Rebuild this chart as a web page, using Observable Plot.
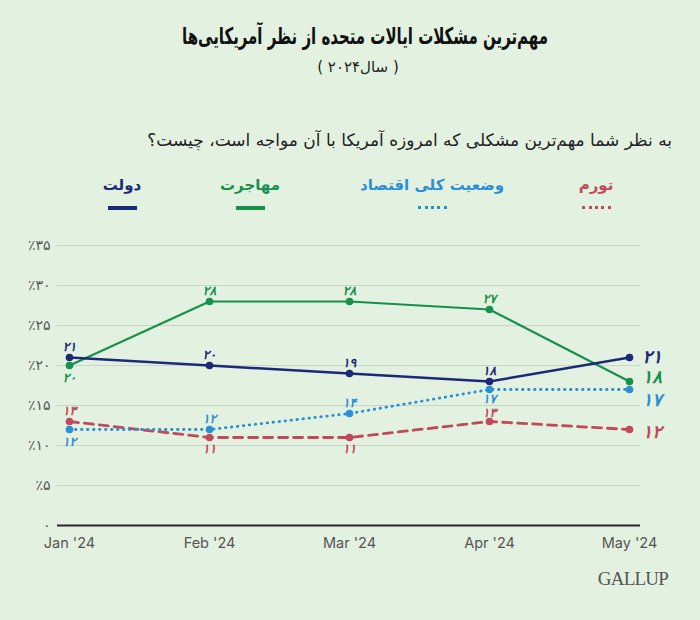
<!DOCTYPE html>
<html>
<head>
<meta charset="utf-8">
<script src="https://cdn.jsdelivr.net/npm/d3@7"></script>
<script src="https://cdn.jsdelivr.net/npm/@observablehq/plot@0.6"></script>
<style>
  html, body { margin: 0; padding: 0; }
  body { width: 700px; height: 620px; background: #e3f1e0; position: relative; overflow: hidden; font-family: "DejaVu Sans", "Noto Sans", sans-serif; }
  .abs { position: absolute; white-space: nowrap; }
  #title { top: 23px; left: 365px; font-weight: bold; font-size: 23px; color: #111; direction: rtl; transform-origin: center; }
  #subtitle { top: 58px; left: 0; width: 716px; text-align: center; font-size: 15px; color: #222; direction: rtl; }
  #question { top: 130px; right: 28px; font-size: 17px; color: #222; direction: rtl; }
  .leg { font-weight: bold; font-size: 15px; transform: translateX(-50%); direction: rtl; top: 176px; }
  .legline { top: 206px; height: 0; width: 29px; }
  #chart { position: absolute; left: 0; top: 225px; }
  #gallup { top: 568px; right: 32px; font-family: "Liberation Serif", "DejaVu Serif", serif; font-size: 19px; color: #555; letter-spacing: -0.8px; }
</style>
</head>
<body>
<div id="title" class="abs"></div>
<div id="subtitle" class="abs"></div>
<div id="question" class="abs"></div>
<div id="legend"></div>
<div id="chart"></div>
<div id="gallup" class="abs">GALLUP</div>
<script>
// ---- data ----
const months = ["Jan '24", "Feb '24", "Mar '24", "Apr '24", "May '24"];
const government = [21, 20, 19, 18, 21];
const immigration = [20, 28, 28, 27, 18];
const economy = [12, 12, 14, 17, 17];
const inflation = [13, 11, 11, 13, 12];
const seriesNames = ["دولت", "مهاجرت", "وضعیت کلی اقتصاد", "تورم"];
const yTicks = [0, 5, 10, 15, 20, 25, 30, 35];
const titleText = "مهم‌ترین مشکلات ایالات متحده از نظر آمریکایی‌ها";
const subtitleText = "( سال۲۰۲۴ )";
const questionText = "به نظر شما مهم‌ترین مشکلی که امروزه آمریکا با آن مواجه است، چیست؟";

// ---- styling / placement ----
const colors = ["#1b2a78", "#17904c", "#2b8fd3", "#c2485c"];
const dashes = [null, null, "0.5,5.5", "9,6"];
const widths = [2.5, 2.2, 2.8, 2.8];
const legendX = [122, 250, 432, 596];
// vertical label offsets (px) for the first four months; May labels sit to the right
const labelDy = [
  [-11, -11, -11, -11],
  [12, -11, -11, -11],
  [12, -11, -11, 9],
  [-11, 11, 11, -9]
];
const endDy = [0, -4, 11, 3];

const fa = n => String(n).replace(/\d/g, d => "۰۱۲۳۴۵۶۷۸۹"[d]);

const titleEl = document.getElementById("title");
titleEl.textContent = titleText;
const tw = titleEl.getBoundingClientRect().width;
const sx = 366 / tw;
titleEl.style.transform = `translateX(-50%) scaleX(${sx})`;
document.getElementById("subtitle").textContent = subtitleText;
document.getElementById("question").textContent = questionText;

// legend
const legend = document.getElementById("legend");
seriesNames.forEach((name, i) => {
  const t = document.createElement("div");
  t.className = "abs leg";
  t.style.left = legendX[i] + "px";
  t.style.color = colors[i];
  t.textContent = name;
  legend.appendChild(t);
  const l = document.createElement("div");
  l.className = "abs legline";
  l.style.left = (legendX[i] - 14) + "px";
  l.style.borderTop = dashes[i] ? `3px dotted ${colors[i]}` : `4px solid ${colors[i]}`;
  legend.appendChild(l);
});

const allSeries = [government, immigration, economy, inflation];
const rows = [];
allSeries.forEach((vals, s) => vals.forEach((v, m) => rows.push({
  series: s, month: months[m], m, value: v
})));

const order = [3, 2, 1, 0];
const font = "DejaVu Sans, sans-serif";
const labelMarks = [];
order.forEach(s => {
  const data = rows.filter(r => r.series === s);
  data.forEach(r => {
    if (r.m < 4) {
      labelMarks.push(Plot.text([r], { x: "month", y: "value", text: d => fa(d.value),
        fill: colors[s], fontSize: 12.5, fontWeight: "bold", fontStyle: "italic", fontFamily: font,
        dy: labelDy[s][r.m] }));
    } else {
      labelMarks.push(Plot.text([r], { x: "month", y: "value", text: d => fa(d.value),
        fill: colors[s], fontSize: 18, fontWeight: "bold", fontStyle: "italic", fontFamily: font,
        dx: 13, dy: endDy[s], textAnchor: "start" }));
    }
  });
});

const chart = Plot.plot({
  width: 700,
  height: 330,
  marginTop: 20,
  marginBottom: 30,
  marginLeft: 57,
  marginRight: 60,
  style: { background: "transparent", overflow: "visible" },
  x: { type: "point", domain: months, padding: 11 / 140, label: null },
  y: { domain: [0, 35], label: null },
  marks: [
    Plot.gridY(yTicks.filter(d => d > 0), { stroke: "#c9d6c6", strokeOpacity: 1, strokeWidth: 1 }),
    Plot.ruleY([0], { stroke: "#2a2a2a", strokeWidth: 2 }),
    Plot.axisY({ ticks: yTicks, tickSize: 0, tickPadding: 7, fontSize: 14, fill: "#555",
      tickFormat: d => d === 0 ? "۰" : "٪" + fa(d), fontFamily: "DejaVu Sans" }),
    Plot.axisX({ tickSize: 0, tickPadding: 12, fontSize: 14.5, fill: "#555", fontFamily: "Inter, Roboto, sans-serif" }),
    ...order.flatMap(s => {
      const data = rows.filter(r => r.series === s);
      return [
        Plot.line(data, { x: "month", y: "value", stroke: colors[s], strokeWidth: widths[s],
          strokeDasharray: dashes[s], strokeLinecap: dashes[s] ? "round" : "butt" }),
        Plot.dot(data, { x: "month", y: "value", r: 3.8, fill: colors[s] })
      ];
    }),
    ...labelMarks
  ]
});
document.getElementById("chart").appendChild(chart);
</script>
</body>
</html>
